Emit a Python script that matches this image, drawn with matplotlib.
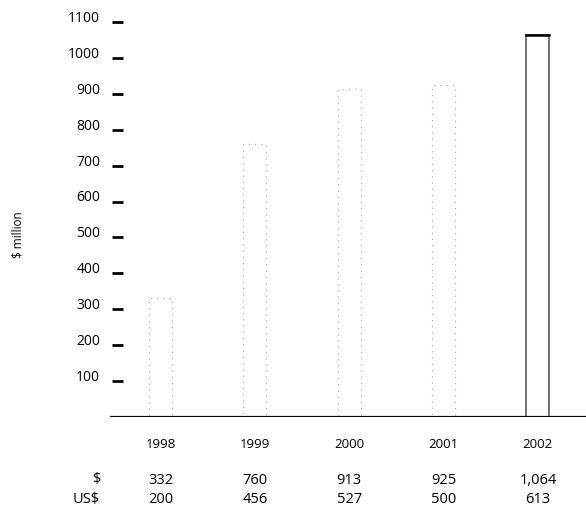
import matplotlib
matplotlib.use("Agg")
import matplotlib.pyplot as plt
from matplotlib.transforms import ScaledTranslation

plt.rcParams['font.family'] = ['Open Sans', 'DejaVu Sans']

years = ["1998", "1999", "2000", "2001", "2002"]
values_dollar = [332, 760, 913, 925, 1064]
values_usd = [200, 456, 527, 500, 613]
dollar_labels = ["332", "760", "913", "925", "1,064"]
usd_labels = ["200", "456", "527", "500", "613"]
yticks = [100, 200, 300, 400, 500, 600, 700, 800, 900, 1000, 1100]

fig = plt.figure(figsize=(5.86, 5.21), dpi=100)
ax = fig.add_axes([110/586, 104/521, 476/586, (417-22)/521])

x = list(range(len(years)))
w = 0.245
for i, v in enumerate(values_dollar):
    if i < len(years) - 1:
        ax.bar(i, v, width=w, facecolor='white', edgecolor='#b0b0b0',
               linestyle=(0, (1, 4)), linewidth=0.9, zorder=2)
    else:
        ax.bar(i, v, width=w, facecolor='white', edgecolor='#666666',
               linewidth=1.3, zorder=2)
        ax.plot([i - w/2, i + w/2], [v, v], color='black', linewidth=1.8, zorder=3)

ax.set_xlim(-0.535, 4.51)
ax.set_ylim(0, 1100)
ax.axhline(0, color='black', linewidth=2.3, zorder=3)

for s in ['top', 'right', 'left', 'bottom']:
    ax.spines[s].set_visible(False)
ax.set_xticks([])
ax.set_yticks(yticks)
ax.set_yticklabels([str(t) for t in yticks], fontsize=10)
ax.tick_params(axis='y', direction='in', length=8, width=2, pad=7, color='black')
for lab in ax.get_yticklabels():
    lab.set_transform(lab.get_transform() + ScaledTranslation(0, 4/72, fig.dpi_scale_trans))
for t in ax.yaxis.get_major_ticks():
    t.tick1line.set_transform(t.tick1line.get_transform() + ScaledTranslation(2/100, 0, fig.dpi_scale_trans))

fig.text(18/586, 1 - 235/521, "$ million", rotation=90, ha='center', va='center', fontsize=8.5)

trans = ax.get_xaxis_transform()
for i in x:
    ax.text(i, -0.07, years[i], transform=trans, ha='center', va='center', fontsize=9.5)
    ax.text(i, -0.16, dollar_labels[i], transform=trans, ha='center', va='center', fontsize=10.5)
    ax.text(i, -0.21, usd_labels[i], transform=trans, ha='center', va='center', fontsize=10.5)
fig.text(100/586, 1 - 480/521, "$", ha='right', va='center', fontsize=10.5)
fig.text(100/586, 1 - 500/521, "US$", ha='right', va='center', fontsize=10.5)

fig.savefig("out.png", dpi=100)
